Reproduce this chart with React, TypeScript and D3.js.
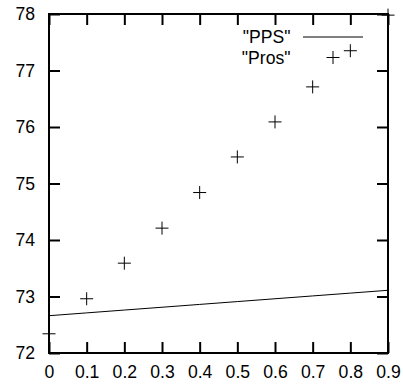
import React, { useEffect, useRef } from 'react';
import * as d3 from 'd3';

const xValues = [0, 0.1, 0.2, 0.3, 0.4, 0.5, 0.6, 0.7, 0.8, 0.9];
const ppsValues = [72.66, 72.71, 72.76, 72.81, 72.86, 72.91, 72.96, 73.01, 73.06, 73.11];
const prosValues = [72.34, 72.96, 73.59, 74.21, 74.84, 75.47, 76.09, 76.71, 77.35, 77.98];
const xTicks = [0, 0.1, 0.2, 0.3, 0.4, 0.5, 0.6, 0.7, 0.8, 0.9];
const yTicks = [72, 73, 74, 75, 76, 77, 78];
const legendLabels = ['"PPS"', '"Pros"'];

const App: React.FC = () => {
  const svgRef = useRef<SVGSVGElement>(null);

  useEffect(() => {
    if (!svgRef.current) return;
    const svg = d3.select(svgRef.current);
    svg.selectAll('*').remove();

    const left = 49, right = 388, top = 14, bottom = 353;
    const font = '"Liberation Sans", Arial, Helvetica, sans-serif';
    const fontSize = '17.6px';

    const x = d3.scaleLinear().domain([0, 0.9]).range([left, right]);
    const y = d3.scaleLinear().domain([72, 78]).range([bottom, top]);

    const g = svg.append('g');

    // PPS line
    const line = d3
      .line<number>()
      .x((_, i) => x(xValues[i]))
      .y(d => y(d));
    g.append('path')
      .datum(ppsValues)
      .attr('fill', 'none')
      .attr('stroke', '#000')
      .attr('stroke-width', 1)
      .attr('d', line);

    // Pros points
    const s = 6.5;
    const plus = (cx: number, cy: number) =>
      `M${cx - s},${cy}H${cx + s}M${cx},${cy - s}V${cy + s}`;
    g.selectAll('path.pt')
      .data(prosValues)
      .join('path')
      .attr('class', 'pt')
      .attr('fill', 'none')
      .attr('stroke', '#000')
      .attr('stroke-width', 1)
      .attr('d', (d, i) => plus(x(xValues[i]), y(d)));

    // Axes (inner ticks, mirrored)
    const tickLen = 11;
    const axisFmt = (d: d3.NumberValue) => String(+d);
    const bottomAxis = svg
      .append('g')
      .attr('transform', `translate(0,${bottom})`)
      .call(d3.axisBottom(x).tickValues(xTicks).tickSize(-tickLen).tickPadding(15).tickFormat(axisFmt));
    const leftAxis = svg
      .append('g')
      .attr('transform', `translate(${left},0)`)
      .call(d3.axisLeft(y).tickValues(yTicks).tickSize(-tickLen).tickPadding(15).tickFormat(axisFmt));
    const topAxis = svg
      .append('g')
      .attr('transform', `translate(0,${top})`)
      .call(d3.axisTop(x).tickValues(xTicks).tickSize(-tickLen).tickFormat(() => ''));
    const rightAxis = svg
      .append('g')
      .attr('transform', `translate(${right},0)`)
      .call(d3.axisRight(y).tickValues(yTicks).tickSize(-tickLen).tickFormat(() => ''));

    [bottomAxis, leftAxis, topAxis, rightAxis].forEach(a => {
      a.select('.domain').remove();
      a.selectAll('.tick line').attr('stroke', '#000').attr('stroke-width', 2);
      a.selectAll('text')
        .attr('fill', '#000')
        .style('font-family', font)
        .style('font-size', fontSize);
    });
    bottomAxis.selectAll('text').attr('dy', '0.71em').attr('y', 13);
    leftAxis.selectAll('text').attr('x', -14);

    // Frame
    svg.append('rect')
      .attr('x', left)
      .attr('y', top)
      .attr('width', right - left)
      .attr('height', bottom - top)
      .attr('fill', 'none')
      .attr('stroke', '#000')
      .attr('stroke-width', 2);

    // Legend
    const legend = svg.append('g');
    legendLabels.forEach((label, i) => {
      const ly = 37 + i * 20.5;
      legend.append('text')
        .attr('x', 290.5)
        .attr('y', ly)
        .attr('dy', '0.35em')
        .attr('text-anchor', 'end')
        .style('font-family', font)
        .style('font-size', fontSize)
        .attr('fill', '#000')
        .text(label);
      if (i === 0) {
        legend.append('line')
          .attr('x1', 303).attr('x2', 363)
          .attr('y1', ly).attr('y2', ly)
          .attr('stroke', '#000')
          .attr('stroke-width', 1);
      } else {
        legend.append('path')
          .attr('fill', 'none')
          .attr('stroke', '#000')
          .attr('stroke-width', 1)
          .attr('d', plus(333, ly));
      }
    });
  }, []);

  return (
    <div style={{ position: 'absolute', left: 0, top: 0 }}>
      <svg ref={svgRef} width={403} height={387} style={{ display: 'block', background: '#fff' }} />
    </div>
  );
};

export default App;
